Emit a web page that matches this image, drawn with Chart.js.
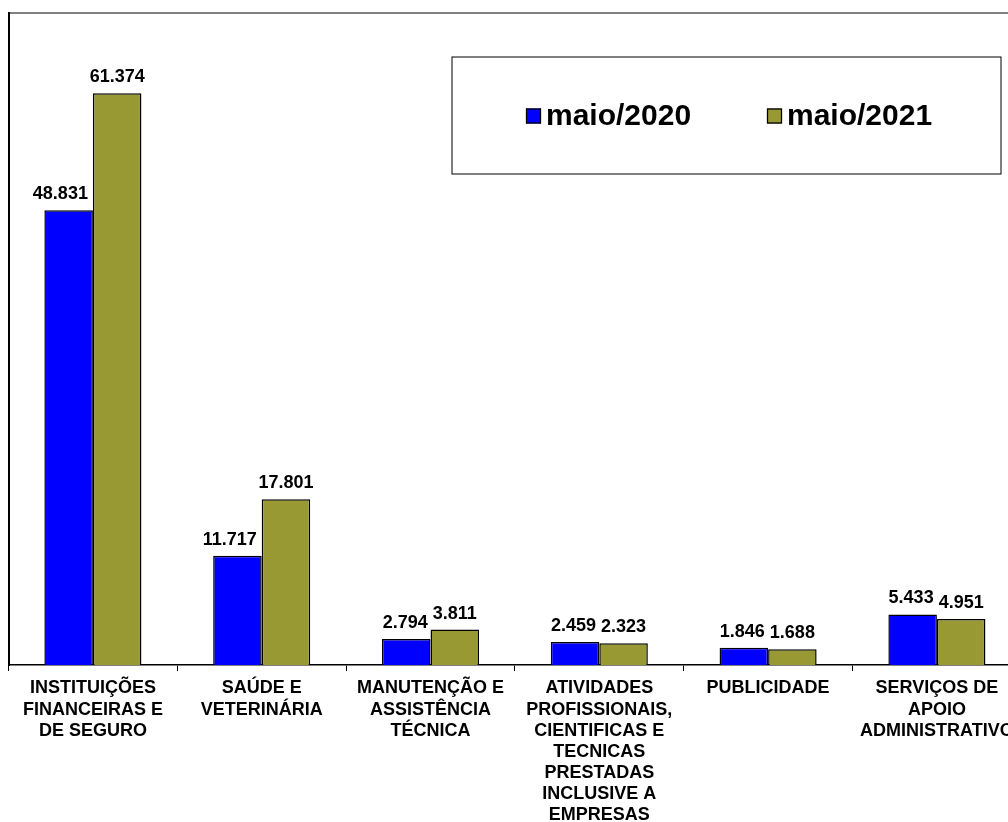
<!DOCTYPE html>
<html lang="pt-BR">
<head>
<meta charset="utf-8">
<title>Empregos por atividade – maio/2020 x maio/2021</title>
<script src="https://cdn.jsdelivr.net/npm/chart.js@4/dist/chart.umd.min.js"></script>
<style>
  html, body { margin: 0; padding: 0; background: #fff; overflow: hidden; width: 1008px; height: 822px; }
  #wrap { position: absolute; left: 0; top: 0; width: 1030px; height: 840px; }
  canvas { display: block; }
</style>
</head>
<body>
<div id="wrap"><canvas id="chart" width="1030" height="840"></canvas></div>
<script>
// Categorias (rótulos em várias linhas)
const categories = [
  ["INSTITUIÇÕES", "FINANCEIRAS E", "DE SEGURO"],
  ["SAÚDE E", "VETERINÁRIA"],
  ["MANUTENÇÃO E", "ASSISTÊNCIA", "TÉCNICA"],
  ["ATIVIDADES", "PROFISSIONAIS,", "CIENTIFICAS E", "TECNICAS", "PRESTADAS", "INCLUSIVE A", "EMPRESAS"],
  ["PUBLICIDADE"],
  ["SERVIÇOS DE", "APOIO", "ADMINISTRATIVO"]
];

const seriesNames = ["maio/2020", "maio/2021"];
const values2020 = [48831, 11717, 2794, 2459, 1846, 5433];
const values2021 = [61374, 17801, 3811, 2323, 1688, 4951];

const FONT = "'Liberation Sans', Arial, Helvetica, sans-serif";

// 61374 -> "61.374"
function fmt(n) {
  const s = String(Math.round(n));
  return s.replace(/\B(?=(\d{3})+(?!\d))/g, ".");
}

// Linha superior da moldura
const framePlugin = {
  id: 'frame',
  beforeDraw(chart) {
    const ctx = chart.ctx;
    ctx.save();
    ctx.strokeStyle = '#000';
    ctx.lineWidth = 1;
    ctx.beginPath();
    ctx.moveTo(8, 13);
    ctx.lineTo(chart.width, 13);
    ctx.stroke();
    ctx.restore();
  }
};

// Valores acima de cada barra; o rótulo da primeira série é deslocado
// para a esquerda quando encostaria na barra ou no rótulo vizinho.
const valueLabels = {
  id: 'valueLabels',
  afterDatasetsDraw(chart) {
    const ctx = chart.ctx;
    ctx.save();
    ctx.font = "bold 18px " + FONT;
    ctx.fillStyle = '#000';
    ctx.textBaseline = 'alphabetic';
    ctx.textAlign = 'left';
    const rise = 11, capH = 13, gap = 5;
    const metaA = chart.getDatasetMeta(0);
    const metaB = chart.getDatasetMeta(1);
    const dsA = chart.data.datasets[0];
    const dsB = chart.data.datasets[1];
    metaB.data.forEach((bar, j) => {
      const t = fmt(dsB.data[j]);
      const w = ctx.measureText(t).width;
      ctx.fillText(t, bar.x - w / 2, bar.y - rise);
    });
    metaA.data.forEach((bar, j) => {
      const t = fmt(dsA.data[j]);
      const w = ctx.measureText(t).width;
      let left = bar.x - w / 2;
      const base = bar.y - rise;
      const top = base - capH;
      const nb = metaB.data[j];
      const nbText = fmt(dsB.data[j]);
      const nbW = ctx.measureText(nbText).width;
      const nbBase = nb.y - rise;
      let obstacle = Infinity;
      // barra vizinha mais alta que o rótulo
      if (nb.y < base) obstacle = Math.min(obstacle, nb.x - nb.width / 2);
      // rótulo vizinho na mesma faixa vertical
      if (nbBase > top && nbBase - capH < base) obstacle = Math.min(obstacle, nb.x - nbW / 2);
      if (left + w > obstacle - gap) left = obstacle - gap - w;
      ctx.fillText(t, left, base);
    });
    ctx.restore();
  }
};

// Legenda em caixa dentro da área do gráfico
const boxLegend = {
  id: 'boxLegend',
  afterDraw(chart) {
    const ctx = chart.ctx;
    ctx.save();
    ctx.fillStyle = '#fff';
    ctx.fillRect(452, 57, 549, 117);
    ctx.strokeStyle = '#000';
    ctx.lineWidth = 1;
    ctx.strokeRect(452, 57, 549, 117);
    const itemX = [526, 767];
    ctx.font = "bold 30px " + FONT;
    ctx.textBaseline = 'alphabetic';
    ctx.textAlign = 'left';
    chart.data.datasets.forEach((ds, i) => {
      const x = itemX[i];
      ctx.fillStyle = ds.backgroundColor;
      ctx.fillRect(x, 108.5, 15, 15);
      ctx.strokeStyle = '#000';
      ctx.lineWidth = 1.3;
      ctx.strokeRect(x + 0.5, 109, 14, 14);
      ctx.fillStyle = '#000';
      ctx.fillText(ds.label, x + 20, 125);
    });
    ctx.restore();
  }
};

new Chart(document.getElementById('chart'), {
  type: 'bar',
  data: {
    labels: categories,
    datasets: [
      {
        label: seriesNames[0],
        data: values2020,
        backgroundColor: '#0000FF',
        borderColor: '#000',
        borderWidth: 1.5,
        borderSkipped: 'bottom'
      },
      {
        label: seriesNames[1],
        data: values2021,
        backgroundColor: '#999933',
        borderColor: '#000',
        borderWidth: 1.5,
        borderSkipped: 'bottom'
      }
    ]
  },
  options: {
    responsive: false,
    animation: false,
    devicePixelRatio: 1,
    layout: { padding: { left: 8.5, right: 8.7, top: 13, bottom: 0 } },
    datasets: {
      bar: { barPercentage: 1.0, categoryPercentage: 0.575 }
    },
    plugins: {
      legend: { display: false },
      tooltip: { enabled: false },
      title: { display: false }
    },
    scales: {
      x: {
        offset: true,
        grid: {
          display: true,
          offset: true,
          drawOnChartArea: false,
          drawTicks: true,
          tickLength: 6,
          color: '#000',
          lineWidth: 1
        },
        border: { display: true, color: '#000', width: 1.5 },
        ticks: {
          autoSkip: false,
          maxRotation: 0,
          minRotation: 0,
          padding: 7,
          color: '#000',
          font: { family: FONT, size: 18, weight: 'bold', lineHeight: 1.17 }
        },
        afterFit(scale) { scale.height = 175; }
      },
      y: {
        min: 0,
        max: 70000,
        grid: { display: false },
        border: { display: true, color: '#000', width: 2 },
        ticks: { display: false },
        afterFit(scale) { scale.width = 0; }
      }
    }
  },
  plugins: [framePlugin, valueLabels, boxLegend]
});
</script>
</body>
</html>
